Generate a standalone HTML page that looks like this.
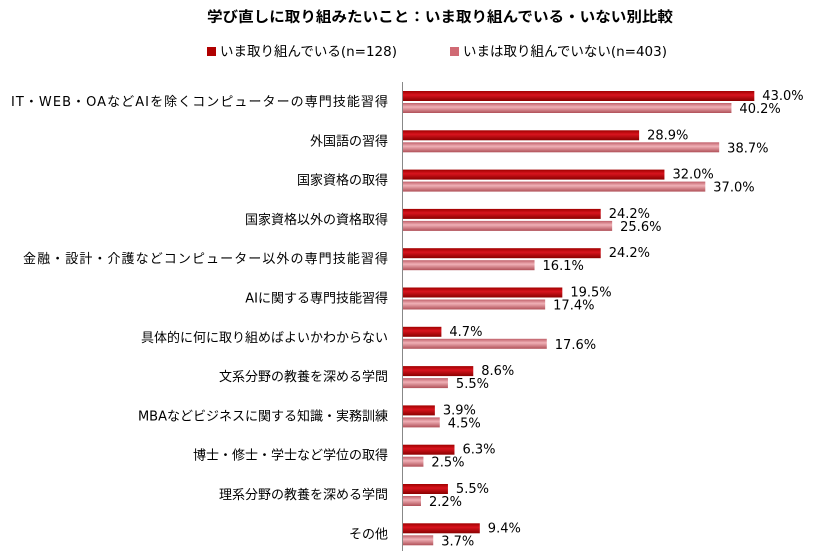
<!DOCTYPE html>
<html><head><meta charset="utf-8"><style>
body{margin:0;background:#fff;}
text{font-family:"DejaVu Sans","Noto Sans CJK JP",sans-serif;fill:#000;}
</style></head><body>
<svg width="814" height="552" xmlns="http://www.w3.org/2000/svg">
<defs>
<linearGradient id="r" x1="0" y1="0" x2="0" y2="1"><stop offset="0" stop-color="#a00000"/><stop offset="0.4" stop-color="#d8141e"/><stop offset="1" stop-color="#8a0000"/></linearGradient>
<linearGradient id="p" x1="0" y1="0" x2="0" y2="1"><stop offset="0" stop-color="#c0606a"/><stop offset="0.4" stop-color="#f0b0b6"/><stop offset="1" stop-color="#b05058"/></linearGradient>
</defs>
<text x="207" y="22" font-size="14.5" font-weight="bold" textLength="466" lengthAdjust="spacingAndGlyphs">学び直しに取り組みたいこと：いま取り組んでいる・いない別比較</text>
<rect x="207" y="47" width="9" height="9" fill="#b00000"/>
<text x="220" y="56" font-size="13.5">いま取り組んでいる(n=128)</text>
<rect x="450" y="47" width="9" height="9" fill="#d06a74"/>
<text x="463" y="56" font-size="13.5">いまは取り組んでいない(n=403)</text>
<line x1="402.5" y1="82" x2="402.5" y2="551" stroke="#888" stroke-width="1"/>
<g id="bars"></g>
</svg>
<script>
var d=[["IT・WEB・OAなどAIを除くコンピューターの専門技能習得",43.0,40.2,377],["外国語の習得",28.9,38.7,0],["国家資格の取得",32.0,37.0,0],["国家資格以外の資格取得",24.2,25.6,0],["金融・設計・介護などコンピューター以外の専門技能習得",24.2,16.1,365],["AIに関する専門技能習得",19.5,17.4,0],["具体的に何に取り組めばよいかわからない",4.7,17.6,0],["文系分野の教養を深める学問",8.6,5.5,0],["MBAなどビジネスに関する知識・実務訓練",3.9,4.5,0],["博士・修士・学士など学位の取得",6.3,2.5,0],["理系分野の教養を深める学問",5.5,2.2,0],["その他",9.4,3.7,0]];
var s="";
d.forEach(function(r,i){var y=91+i*39.3;var w1=r[1]*8.17,w2=r[2]*8.17;
var tl=r[3]?' textLength="'+r[3]+'" lengthAdjust="spacing"':'';
s+='<text x="388" y="'+(y+15)+'" text-anchor="end" font-size="13"'+tl+'>'+r[0]+'</text>';
s+='<rect x="403" y="'+y+'" width="'+w1+'" height="10" fill="url(#r)"/>';
s+='<rect x="403" y="'+(y+12)+'" width="'+w2+'" height="10" fill="url(#p)"/>';
s+='<text x="'+(403+w1+8)+'" y="'+(y+9)+'" font-size="13">'+r[1].toFixed(1)+'%</text>';
s+='<text x="'+(403+w2+8)+'" y="'+(y+22)+'" font-size="13">'+r[2].toFixed(1)+'%</text>';});
document.getElementById("bars").innerHTML=s;
</script>
</body></html>
